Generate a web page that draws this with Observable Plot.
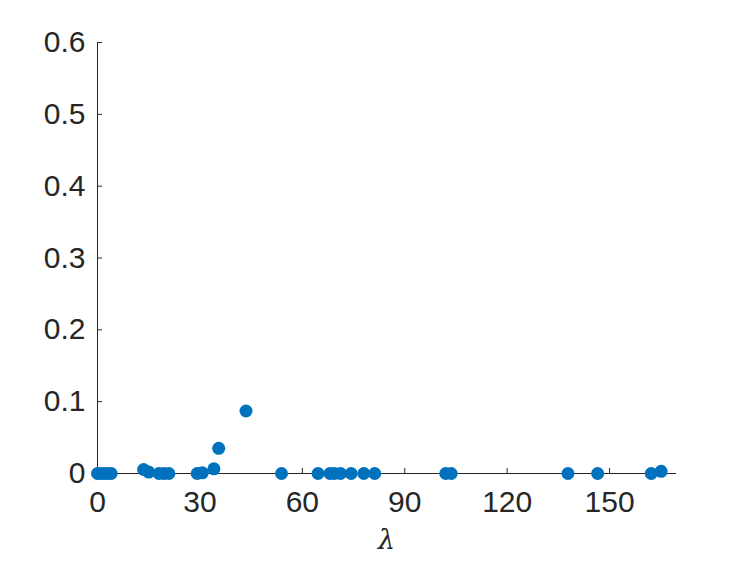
<!DOCTYPE html>
<html>
<head>
<meta charset="utf-8">
<script src="https://cdn.jsdelivr.net/npm/d3@7"></script>
<script src="https://cdn.jsdelivr.net/npm/@observablehq/plot@0.6"></script>
<style>
  html, body { margin: 0; padding: 0; background: #fff; }
  #chart svg { display: block; }
</style>
</head>
<body>
<div id="chart"></div>
<script>
const lambda = [0, 1, 2, 3, 4, 13.5, 15, 18, 19.4, 20.9, 29.2, 30.7, 34.1, 35.5, 43.5, 53.9,
  64.6, 68.1, 69.4, 71.2, 74.3, 78.0, 81.2, 102, 103.6, 137.8, 146.5, 162.2, 165.1];
const values = [0, 0, 0, 0, 0, 0.0056, 0.002, 0, 0, 0, 0, 0.001, 0.0065, 0.035, 0.087, 0,
  0, 0, 0, 0, 0, 0, 0, 0, 0, 0, 0, 0, 0.003];
const xTicks = [0, 30, 60, 90, 120, 150];
const yTicks = [0, 0.1, 0.2, 0.3, 0.4, 0.5, 0.6];
const yTickLabels = ["0", "0.1", "0.2", "0.3", "0.4", "0.5", "0.6"];
const xLabel = "λ";

const data = lambda.map((x, i) => ({x, y: values[i]}));
const axisColor = "#262626";
const fontSize = 30;
const fontFamily = "'Liberation Sans', Arial, sans-serif";

const chart = Plot.plot({
  width: 747,
  height: 561,
  marginLeft: 97,
  marginRight: 71,
  marginTop: 42,
  marginBottom: 88,
  style: {fontFamily, fontSize: fontSize + "px", color: axisColor, background: "#fff"},
  x: {domain: [0, 169.6], label: null},
  y: {domain: [0, 0.6], label: null},
  marks: [
    Plot.ruleY([0], {stroke: axisColor, strokeWidth: 1}),
    Plot.ruleX([0], {stroke: axisColor, strokeWidth: 1}),
    Plot.axisX({ticks: xTicks, tickSize: -5, tickFormat: () => "", stroke: axisColor}),
    Plot.axisX({ticks: xTicks, tickSize: 0, tickPadding: 17, tickFormat: d => String(d), fill: axisColor, fontSize, fontFamily, label: null}),
    Plot.axisY({ticks: yTicks, tickSize: -5, tickFormat: () => "", stroke: axisColor}),
    Plot.axisY({ticks: yTicks, tickSize: 0, tickPadding: 12, tickFormat: (d, i) => yTickLabels[i], fill: axisColor, fontSize, fontFamily, label: null}),
    Plot.dot(data, {x: "x", y: "y", r: 6.5, fill: "#0072BD", stroke: null})
  ]
});
document.getElementById("chart").appendChild(chart);

// x-axis label (lambda), placed below the axis at the centre of the frame
const svg = d3.select(chart);
svg.append("text")
  .attr("x", (97 + (747 - 71)) / 2)
  .attr("y", 549)
  .attr("text-anchor", "middle")
  .attr("font-style", "italic")
  .attr("font-family", "'DejaVu Serif', serif")
  .attr("font-size", 27)
  .attr("fill", axisColor)
  .text(xLabel);
</script>
</body>
</html>
